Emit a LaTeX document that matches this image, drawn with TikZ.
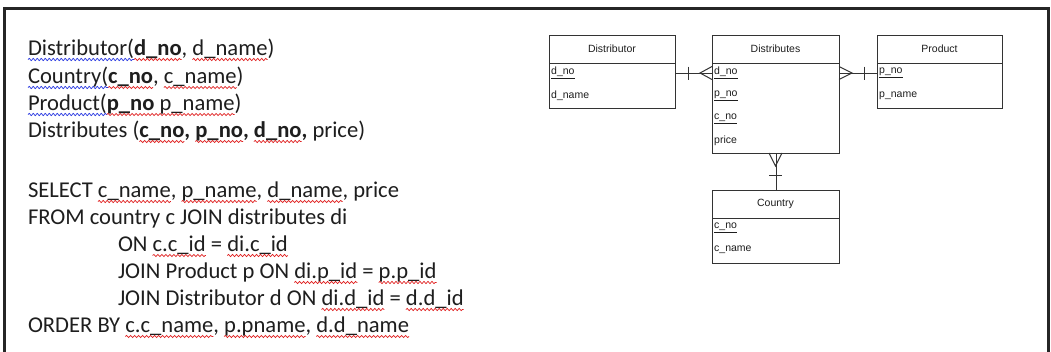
\documentclass[tikz,border=0pt]{standalone}
\usepackage{fontspec}
\setmainfont{Carlito}
\newfontfamily\erfont{Liberation Sans}
\usetikzlibrary{decorations.pathmorphing}
\definecolor{txt}{HTML}{1E1E1E}
\definecolor{wred}{HTML}{E02020}
\definecolor{wblue}{HTML}{2030E0}
\definecolor{ln}{HTML}{333333}
\newcommand\tsp{\ \null}
\newcommand\wav[2]{\draw[#1, line width=0.7pt, decorate, decoration={snake, amplitude=1.1pt, segment length=4pt}] ([yshift=-4.5pt]#2.base west) -- ([yshift=-4.5pt]#2.base east);}
\tikzset{
  tline/.style={anchor=base west, inner sep=0pt, outer sep=0pt, text=txt, font=\fontsize{22.6}{26}\selectfont},
  ebox/.style={draw=ln, line width=1pt, anchor=north west, inner sep=0pt},
  ehead/.style={inner sep=0pt, text=txt, font=\erfont\fontsize{10.5}{12}\selectfont},
  eattr/.style={anchor=west, inner sep=0pt, text=txt, font=\erfont\fontsize{10.5}{12}\selectfont},
  conn/.style={draw=ln, line width=1pt},
}
\begin{document}
\begin{tikzpicture}[x=1pt,y=-1pt]
\useasboundingbox (0,0) rectangle (1051,351);
\fill[white] (0,0) rectangle (1051,351);
% frame
\draw[line width=2.5pt, color=black!85] (4.5,360) -- (4.5,8.5) -- (1048.5,8.5) -- (1048.5,360);

% relational schema
\node[tline] (l1a) at (28,55) {Distributor(};
\node[tline] (l1b) at (l1a.base east) {\textbf{d\_no}};
\node[tline] (l1c) at (l1b.base east) {,\tsp};
\node[tline] (l1d) at (l1c.base east) {d\_name};
\node[tline] (l1e) at (l1d.base east) {)};
\wav{wblue}{l1a}\wav{wred}{l1b}\wav{wred}{l1d}

\node[tline] (l2a) at (28,83) {Country(};
\node[tline] (l2b) at (l2a.base east) {\textbf{c\_no}};
\node[tline] (l2c) at (l2b.base east) {,\tsp};
\node[tline] (l2d) at (l2c.base east) {c\_name};
\node[tline] (l2e) at (l2d.base east) {)};
\wav{wblue}{l2a}\wav{wred}{l2b}\wav{wred}{l2d}

\node[tline] (l3a) at (28,110) {Product(};
\node[tline] (l3b) at (l3a.base east) {\textbf{p\_no} p\_name};
\node[tline] (l3c) at (l3b.base east) {)};
\wav{wblue}{l3a}\wav{wred}{l3b}

\node[tline] (l4a) at (28,137) {Distributes (};
\node[tline] (l4b) at (l4a.base east) {\textbf{c\_no}};
\node[tline] (l4c) at (l4b.base east) {\textbf{,}\tsp};
\node[tline] (l4d) at (l4c.base east) {\textbf{p\_no}};
\node[tline] (l4e) at (l4d.base east) {\textbf{,}\tsp};
\node[tline] (l4f) at (l4e.base east) {\textbf{d\_no}};
\node[tline] (l4g) at (l4f.base east) {\textbf{,} price)};
\wav{wred}{l4b}\wav{wred}{l4d}\wav{wred}{l4f}

% SQL
\node[tline] (s1a) at (28,197) {SELECT\tsp};
\node[tline] (s1b) at (s1a.base east) {c\_name};
\node[tline] (s1c) at (s1b.base east) {,\tsp};
\node[tline] (s1d) at (s1c.base east) {p\_name};
\node[tline] (s1e) at (s1d.base east) {,\tsp};
\node[tline] (s1f) at (s1e.base east) {d\_name};
\node[tline] (s1g) at (s1f.base east) {, price};
\wav{wred}{s1b}\wav{wred}{s1d}\wav{wred}{s1f}

\node[tline] (s2) at (28,224) {FROM country c JOIN distributes di};

\node[tline] (s3a) at (118,251) {ON\tsp};
\node[tline] (s3b) at (s3a.base east) {c.c\_id};
\node[tline] (s3c) at (s3b.base east) {\ =\tsp};
\node[tline] (s3d) at (s3c.base east) {di.c\_id};
\wav{wred}{s3b}\wav{wred}{s3d}

\node[tline] (s4a) at (118,278) {JOIN Product p ON\tsp};
\node[tline] (s4b) at (s4a.base east) {di.p\_id};
\node[tline] (s4c) at (s4b.base east) {\ =\tsp};
\node[tline] (s4d) at (s4c.base east) {p.p\_id};
\wav{wred}{s4b}\wav{wred}{s4d}

\node[tline] (s5a) at (118,305) {JOIN Distributor d ON\tsp};
\node[tline] (s5b) at (s5a.base east) {di.d\_id};
\node[tline] (s5c) at (s5b.base east) {\ =\tsp};
\node[tline] (s5d) at (s5c.base east) {d.d\_id};
\wav{wred}{s5b}\wav{wred}{s5d}

\node[tline] (s6a) at (28,332) {ORDER BY\tsp};
\node[tline] (s6b) at (s6a.base east) {c.c\_name};
\node[tline] (s6c) at (s6b.base east) {,\tsp};
\node[tline] (s6d) at (s6c.base east) {p.pname};
\node[tline] (s6e) at (s6d.base east) {,\tsp};
\node[tline] (s6f) at (s6e.base east) {d.d\_name};
\wav{wred}{s6b}\wav{wred}{s6d}\wav{wred}{s6f}

% ER entities
\node[ebox, minimum width=126pt, minimum height=73pt] (dist) at (549,35) {};
\draw[conn] (dist.north west |- 0,63) -- (dist.north east |- 0,63);
\node[ehead] (distH) at (612,49) {Distributor};
\node[eattr] (distA1) at (551,73) {\underline{d\_no}};
\node[eattr] (distA2) at (551,96) {d\_name};

\node[ebox, minimum width=127pt, minimum height=118pt] (dis) at (712,35) {};
\draw[conn] (dis.north west |- 0,63) -- (dis.north east |- 0,63);
\node[ehead] (disH) at (775.5,49) {Distributes};
\node[eattr] (disA1) at (714,73) {\underline{d\_no}};
\node[eattr] (disA2) at (714,96) {\underline{p\_no}};
\node[eattr] (disA3) at (714,119) {\underline{c\_no}};
\node[eattr] (disA4) at (714,141) {price};

\node[ebox, minimum width=125pt, minimum height=73pt] (prod) at (877,35) {};
\draw[conn] (prod.north west |- 0,63) -- (prod.north east |- 0,63);
\node[ehead] (prodH) at (939.5,49) {Product};
\node[eattr] (prodA1) at (879,73) {\underline{p\_no}};
\node[eattr] (prodA2) at (879,96) {p\_name};

\node[ebox, minimum width=127pt, minimum height=73pt] (cty) at (712,190) {};
\draw[conn] (cty.north west |- 0,218) -- (cty.north east |- 0,218);
\node[ehead] (ctyH) at (775.5,204) {Country};
\node[eattr] (ctyA1) at (714,228) {\underline{c\_no}};
\node[eattr] (ctyA2) at (714,250) {c\_name};

% connectors
\draw[conn] (dist.east |- distA1) -- (dis.west |- distA1);
\draw[conn] (688,66.5) -- (688,79.5);
\draw[conn] (712,66.5) -- (700,73) -- (712,79.5);

\draw[conn] (dis.east |- prodA1) -- (prod.west |- prodA1);
\draw[conn] (864,66.5) -- (864,79.5);
\draw[conn] (839,66.5) -- (852,73) -- (839,79.5);

\draw[conn] (dis.south) -- (cty.north);
\draw[conn] (769,175) -- (782,175);
\draw[conn] (769,153) -- (775.5,166) -- (782,153);
\end{tikzpicture}
\end{document}
